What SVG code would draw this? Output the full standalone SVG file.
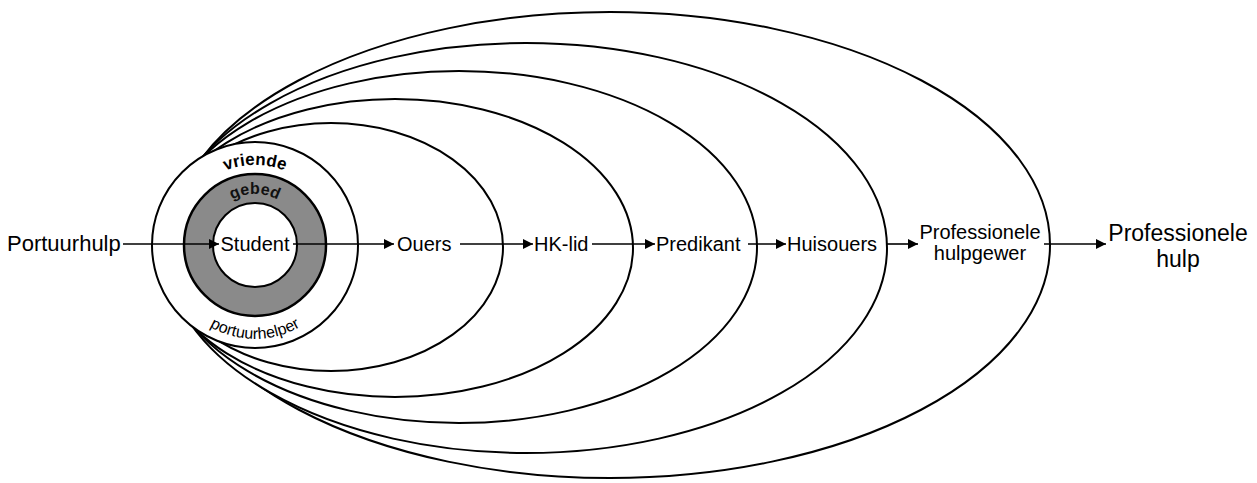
<svg xmlns="http://www.w3.org/2000/svg" xmlns:xlink="http://www.w3.org/1999/xlink" width="1257" height="483" viewBox="0 0 1257 483">
<style>
.ring{fill:#fff;stroke:#000;stroke-width:2}
.lbl{font-family:"Liberation Sans",Arial,sans-serif;font-size:20px;fill:#000}
.curv{font-family:"Liberation Sans",Arial,sans-serif;font-weight:bold;fill:#000}
.edge{stroke:#000;stroke-width:1.6;fill:none}
</style>
<defs>
<marker id="ah" viewBox="0 0 10 10" refX="10" refY="5" markerWidth="15" markerHeight="10" markerUnits="userSpaceOnUse" orient="auto">
<path d="M0,0 L10,5 L0,10 Z" fill="#000"/>
</marker>
<path id="pVriende" d="M189.5,199 A80,80 0 0 1 320.5,199"/>
<path id="pGebed" d="M214,217 A48,48 0 0 1 296,217"/>
<path id="pPort" d="M176,292 A90,90 0 0 0 334,292"/>
</defs>
<rect width="1257" height="483" fill="#fff"/>
<g id="ellipses">
<ellipse id="e-prof" class="ring" cx="610" cy="245" rx="440" ry="233"/>
<ellipse id="e-huis" class="ring" cx="526" cy="248" rx="361" ry="205"/>
<ellipse id="e-pred" class="ring" cx="459" cy="247" rx="298" ry="176"/>
<ellipse id="e-hk" class="ring" cx="395" cy="248" rx="238" ry="149"/>
<ellipse id="e-ouers" class="ring" cx="331" cy="247" rx="172" ry="124"/>
</g>
<g id="vriende">
<circle class="ring" cx="255" cy="245" r="103"/>
<text class="curv" style="font-size:17px"><textPath xlink:href="#pVriende" startOffset="50%" text-anchor="middle">vriende</textPath></text>
<text class="curv" style="font-size:16px;font-weight:normal"><textPath xlink:href="#pPort" startOffset="50%" text-anchor="middle">portuurhelper</textPath></text>
</g>
<g id="gebed">
<circle cx="255" cy="245" r="71" fill="#8a8a8a" stroke="#000" stroke-width="2.5"/>
<text class="curv" style="font-size:16px;fill:#111"><textPath xlink:href="#pGebed" startOffset="50%" text-anchor="middle">gebed</textPath></text>
</g>
<g id="student">
<circle cx="255" cy="245" r="42" fill="#fff" stroke="#000" stroke-width="2"/>
<text class="lbl" x="255" y="251" text-anchor="middle">Student</text>
</g>
<g id="connectors">
<line class="edge" x1="123" y1="244" x2="219" y2="244" marker-end="url(#ah)"/>
<line class="edge" x1="293" y1="244" x2="394" y2="244" marker-end="url(#ah)"/>
<line class="edge" x1="460" y1="244" x2="533" y2="244" marker-end="url(#ah)"/>
<line class="edge" x1="592" y1="244" x2="655" y2="244" marker-end="url(#ah)"/>
<line class="edge" x1="748" y1="244" x2="786" y2="244" marker-end="url(#ah)"/>
<line class="edge" x1="886" y1="244" x2="918" y2="244" marker-end="url(#ah)"/>
<line class="edge" x1="1044" y1="244" x2="1106" y2="244" marker-end="url(#ah)"/>
</g>
<g id="portuurhulp"><text class="lbl" x="7" y="251" style="font-size:22px">Portuurhulp</text></g>
<g id="ouers"><text class="lbl" x="397" y="251">Ouers</text></g>
<g id="hklid"><text class="lbl" x="534" y="251">HK-lid</text></g>
<g id="predikant"><text class="lbl" x="656" y="251">Predikant</text></g>
<g id="huisouers"><text class="lbl" x="787" y="251">Huisouers</text></g>
<g id="profhulpgewer">
<text class="lbl" x="980" y="239" text-anchor="middle">Professionele</text>
<text class="lbl" x="980" y="260" text-anchor="middle">hulpgewer</text>
</g>
<g id="profhulp">
<text class="lbl" x="1178" y="241" text-anchor="middle" style="font-size:23px">Professionele</text>
<text class="lbl" x="1178" y="267" text-anchor="middle" style="font-size:23px">hulp</text>
</g>
</svg>
